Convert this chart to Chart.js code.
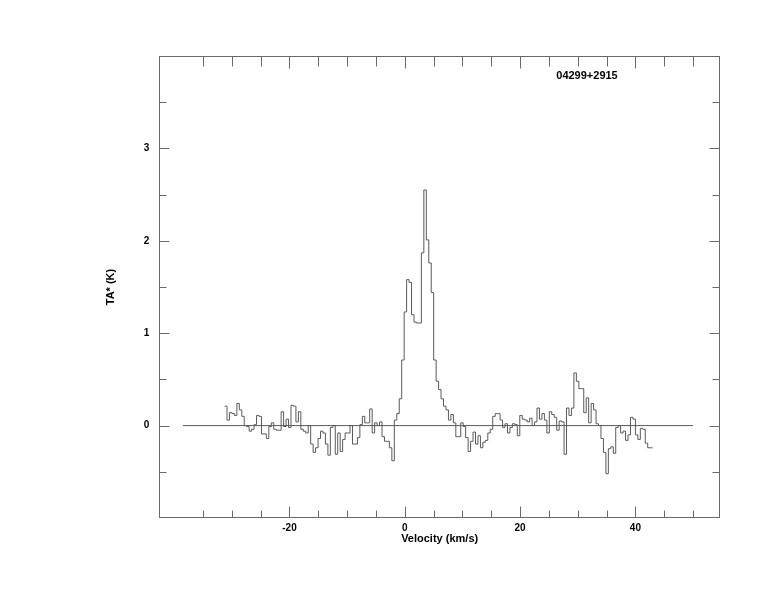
<!DOCTYPE html>
<html>
<head>
<meta charset="utf-8">
<title>04299+2915</title>
<script src="https://cdn.jsdelivr.net/npm/chart.js@4.4.1/dist/chart.umd.min.js"></script>
<style>
    html, body { margin: 0; padding: 0; background: #fff; }
    #wrap { width: 774px; height: 612px; }
</style>
</head>
<body>
<div id="wrap"><canvas id="spectrum" width="774" height="612"></canvas></div>
<script>
const sourceName = '04299+2915';

// channel grid (km/s): left edge of first channel and channel width
const firstEdge = -31.26;
const chanWidth = 0.4267;

// TA* (K), one value per channel
const ta = [
    0.21, 0.06, 0.14, 0.13, 0.11, 0.24, 0.17, 0.10, 0.00, -0.01,
    -0.06, -0.04, 0.01, 0.11, 0.10, -0.09, -0.09, -0.14, -0.01, 0.03,
    -0.04, -0.05, -0.05, 0.15, -0.01, 0.07, -0.02, 0.22, 0.21, 0.04,
    0.15, -0.04, -0.06, -0.08, 0.00, -0.20, -0.29, -0.24, -0.14, -0.06,
    -0.08, -0.20, -0.32, -0.02, 0.00, -0.31, -0.08, -0.28, -0.15, -0.08,
    -0.08, 0.00, -0.20, -0.20, -0.13, 0.01, 0.10, 0.03, 0.03, 0.18,
    -0.08, 0.03, 0.00, 0.04, -0.12, -0.17, -0.17, -0.24, -0.38, 0.06,
    0.13, 0.29, 0.71, 1.23, 1.58, 1.55, 1.20, 1.12, 1.11, 1.11,
    1.87, 2.55, 2.01, 1.76, 1.44, 0.71, 0.48, 0.39, 0.29, 0.21,
    0.17, 0.06, 0.12, 0.03, -0.12, -0.12, 0.03, -0.01, -0.13, -0.28,
    -0.17, -0.07, -0.20, -0.11, -0.24, -0.18, -0.16, -0.08, -0.04, 0.10,
    0.13, 0.13, 0.06, -0.02, 0.02, -0.08, -0.02, 0.02, 0.01, -0.11,
    0.11, 0.07, 0.06, 0.04, 0.08, 0.00, 0.04, 0.19, 0.07, 0.13,
    0.06, -0.08, 0.15, 0.12, 0.09, -0.05, 0.05, 0.04, -0.31, 0.19,
    0.11, 0.19, 0.57, 0.48, 0.40, 0.40, 0.14, 0.30, 0.03, 0.24,
    0.17, 0.02, 0.00, -0.14, -0.29, -0.52, -0.25, -0.23, -0.30, -0.02,
    0.00, -0.08, -0.06, -0.16, -0.10, 0.09, 0.07, -0.10, -0.15, -0.03,
    -0.04, -0.19, -0.24, -0.24
];

// zero baseline drawn from .. to (km/s)
const baselineRange = [-38.5, 50];

// axes
const xRange = [-42.58, 54.67];
const yRange = [-1, 4];
const xLabelTicks = [-20, 0, 20, 40];
const xMinorTicks = [-35, -30, -25, -15, -10, -5, 5, 10, 15, 25, 30, 35, 45, 50];
const yLabelTicks = [0, 1, 2, 3];
const yMinorTicks = [-0.5, 0.5, 1.5, 2.5, 3.5];

const lineColor = '#5a5a5a';

// histogram: one point per channel left edge, plus the closing right edge
const spectrumPts = ta.map((t, i) => ({ x: firstEdge + i * chanWidth, y: t }));
spectrumPts.push({ x: firstEdge + ta.length * chanWidth, y: ta[ta.length - 1] });

const baselinePts = baselineRange.map(v => ({ x: v, y: 0 }));

// frame box with inward ticks on all four sides, plus the source label
const frameTicks = {
    id: 'frameTicks',
    afterDatasetsDraw(chart) {
        const { ctx, chartArea: a, scales: { x, y } } = chart;
        const L = Math.round(a.left) + 0.5, R = Math.round(a.right) - 0.5;
        const T = Math.round(a.top) + 0.5, B = Math.round(a.bottom) - 0.5;
        ctx.save();
        ctx.strokeStyle = '#6a6a6a';
        ctx.lineWidth = 1;
        ctx.strokeRect(L, T, R - L, B - T);
        ctx.beginPath();
        xLabelTicks.concat(xMinorTicks).forEach(v => {
            const major = xLabelTicks.includes(v);
            const px = Math.round(x.getPixelForValue(v)) + 0.5;
            ctx.moveTo(px, B); ctx.lineTo(px, B - (major ? 11 : 7));
            ctx.moveTo(px, T); ctx.lineTo(px, T + (major ? 12 : 10));
        });
        yLabelTicks.concat(yMinorTicks).forEach(v => {
            const major = yLabelTicks.includes(v);
            const py = Math.round(y.getPixelForValue(v)) + 0.5;
            ctx.moveTo(L, py); ctx.lineTo(L + (major ? 10 : 7), py);
            ctx.moveTo(R, py); ctx.lineTo(R - (major ? 10 : 7), py);
        });
        ctx.stroke();

        ctx.fillStyle = '#000';
        ctx.font = 'bold 11px "Liberation Sans", Arial, sans-serif';
        ctx.textAlign = 'center';
        ctx.textBaseline = 'middle';
        ctx.fillText(sourceName, 587, 76);
        ctx.restore();
    }
};

Chart.defaults.font.family = '"Liberation Sans", Arial, sans-serif';
Chart.defaults.color = '#000';

new Chart(document.getElementById('spectrum'), {
    type: 'line',
    data: {
        datasets: [{
            data: spectrumPts,
            stepped: 'before',
            borderColor: lineColor,
            borderWidth: 1,
            pointRadius: 0,
            fill: false
        }, {
            data: baselinePts,
            borderColor: lineColor,
            borderWidth: 1,
            pointRadius: 0,
            fill: false
        }]
    },
    plugins: [frameTicks],
    options: {
        responsive: false,
        devicePixelRatio: 1,
        animation: false,
        events: [],
        layout: { padding: { left: 99.3, right: 54, top: 56, bottom: 66 } },
        plugins: {
            legend: { display: false },
            tooltip: { enabled: false }
        },
        scales: {
            x: {
                type: 'linear',
                min: xRange[0],
                max: xRange[1],
                grid: { display: false, drawTicks: false },
                border: { display: false },
                afterBuildTicks: s => { s.ticks = xLabelTicks.map(v => ({ value: v })); },
                afterFit: s => { s.height = 28; },
                ticks: {
                    autoSkip: false,
                    maxRotation: 0,
                    padding: 4,
                    font: { size: 10, weight: 'bold' }
                },
                title: {
                    display: true,
                    text: 'Velocity (km/s)',
                    padding: 0,
                    font: { size: 11, weight: 'bold' }
                }
            },
            y: {
                type: 'linear',
                min: yRange[0],
                max: yRange[1],
                grid: { display: false, drawTicks: false },
                border: { display: false },
                afterBuildTicks: s => { s.ticks = yLabelTicks.map(v => ({ value: v })); },
                afterFit: s => { s.width = 60; },
                ticks: {
                    autoSkip: false,
                    padding: 10,
                    font: { size: 10, weight: 'bold' }
                },
                title: {
                    display: true,
                    text: 'TA* (K)',
                    padding: { top: 5, bottom: 0 },
                    font: { size: 11, weight: 'bold' }
                }
            }
        }
    }
});
</script>
</body>
</html>
